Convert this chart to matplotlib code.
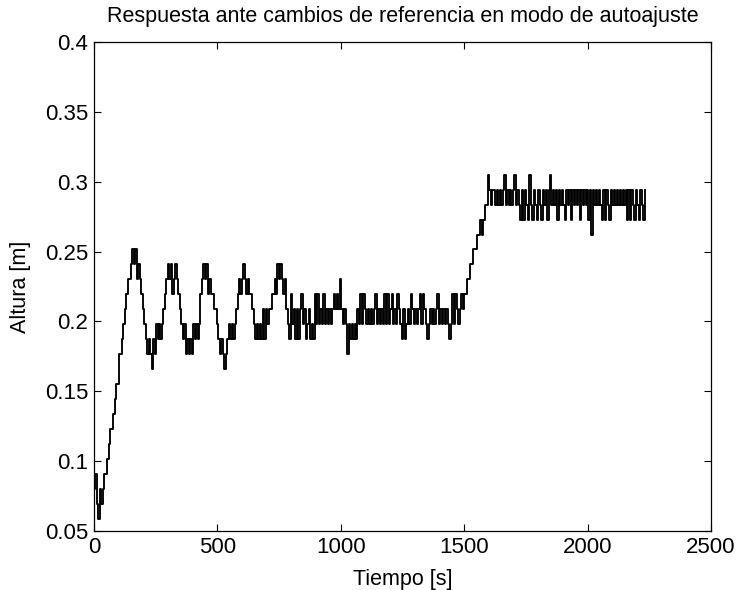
import numpy as np
import matplotlib
matplotlib.use("Agg")
import matplotlib.pyplot as plt

# sensor quantisation: height = (count + 0.5) * LSB  [m], one sample every DT seconds
LSB = 0.0107
DT = 6

# initial climb from the low start level
start_counts = [7, 8, 6, 5, 7, 6, 7, 8, 8, 9, 10, 11, 11, 12, 13, 14, 14, 16, 16,
                17, 18, 19, 20, 21, 21, 22]

# autotune oscillations (5 peaks)
oscillation_counts = [23, 22, 23, 21, 22, 21,
                      20, 19, 18,
                      17, 16, 17, 16, 15, 17, 16,
                      18, 17, 18, 17, 18,
                      19, 20, 21,
                      22, 21, 22, 20, 21, 22, 21,
                      20, 19, 18,
                      17, 18, 16, 17, 16, 17, 16, 18, 17, 18, 17,
                      18, 20,
                      21, 22, 21, 22, 20,
                      21, 20, 20, 19, 19,
                      18, 17,
                      16, 17, 16, 15, 16, 17,
                      18, 17, 18, 17, 18,
                      19, 20, 21, 20, 21, 22, 21, 20, 21, 20, 20,
                      19, 18,
                      17, 18, 17, 18, 17, 19, 17, 19,
                      18, 19, 19, 20, 20,
                      21, 20, 22, 21, 22, 21,
                      20, 21, 19]

# first set point (~0.2 m)
plateau1_counts = [18, 17, 20, 18, 19, 17, 19, 17, 19, 20, 18, 19, 17, 18, 19, 17,
                   18, 17, 20, 18, 20, 18, 19, 18, 20, 18, 19, 18, 19, 18, 19, 20,
                   19, 20, 19, 21, 19, 18, 19, 18, 16, 18, 17, 18, 17, 18, 17, 19,
                   18, 20, 18, 20, 19, 18, 19, 18, 19, 18, 19, 20, 18, 19, 18, 19,
                   18, 20, 18, 20, 18, 19, 20, 18, 19, 18, 20, 19, 18, 17, 19, 17,
                   18, 19, 18, 20, 19, 18, 19, 18, 19, 20, 18, 20, 19, 18, 17, 18,
                   19, 18, 19, 18, 19, 20, 18, 19, 18, 19, 18, 19, 18, 17, 18, 20,
                   18, 20, 19, 18, 19]

# step to the new reference
step_counts = [20, 19, 20, 20, 21, 21, 22, 22, 23, 23, 23, 24, 24, 25, 24, 25,
               26, 26, 28, 27, 26, 27, 27, 26]

# second set point (~0.29 m)
plateau2_counts = [27, 26, 27, 26, 27, 28, 26, 27, 26, 27, 26, 27, 28, 26, 27, 26,
                   25, 27, 25, 27, 26, 25, 28, 26, 25, 27, 26, 25, 27, 26, 25, 27,
                   26, 27, 25, 27, 28, 26, 27, 26, 27, 25, 27, 26, 27, 26, 25, 27,
                   26, 27, 25, 27, 26, 27, 26, 27, 25, 27, 26, 27, 26, 27, 25, 27,
                   24, 27, 26, 27, 26, 27, 26, 25, 27, 25, 27, 26, 25, 27, 26, 27,
                   26, 27, 26, 27, 26, 27, 26, 27, 25, 27, 25, 27, 26, 25, 27, 26,
                   25, 27, 26, 25, 27]

counts = np.array(start_counts + oscillation_counts + plateau1_counts
                  + step_counts + plateau2_counts)
altura = (counts + 0.5) * LSB
tiempo = np.arange(len(counts)) * DT

plt.rcParams['font.family'] = ['Liberation Sans', 'DejaVu Sans']

fig = plt.figure(figsize=(7.39, 5.90), dpi=100)
ax = fig.add_axes([0.127, 0.100, 0.835, 0.829])
ax.plot(tiempo, altura, 'k-', linewidth=1.35, drawstyle='steps-post')

ax.set_xlim(0, 2500)
ax.set_ylim(0.05, 0.4)
ax.set_xticks([0, 500, 1000, 1500, 2000, 2500])
ax.set_yticks([0.05, 0.1, 0.15, 0.2, 0.25, 0.3, 0.35, 0.4])
ax.set_yticklabels(['0.05', '0.1', '0.15', '0.2', '0.25', '0.3', '0.35', '0.4'])
ax.tick_params(direction='in', length=5, width=0.8, top=True, right=True,
               labelsize=16, pad=4)
for s in ax.spines.values():
    s.set_linewidth(0.9)

ax.set_title('Respuesta ante cambios de referencia en modo de autoajuste',
             fontsize=15.5, pad=14)
ax.set_xlabel('Tiempo [s]', fontsize=15.5, labelpad=8)
ax.set_ylabel('Altura [m]', fontsize=15.5, labelpad=10)

fig.savefig('out.png', dpi=100)
